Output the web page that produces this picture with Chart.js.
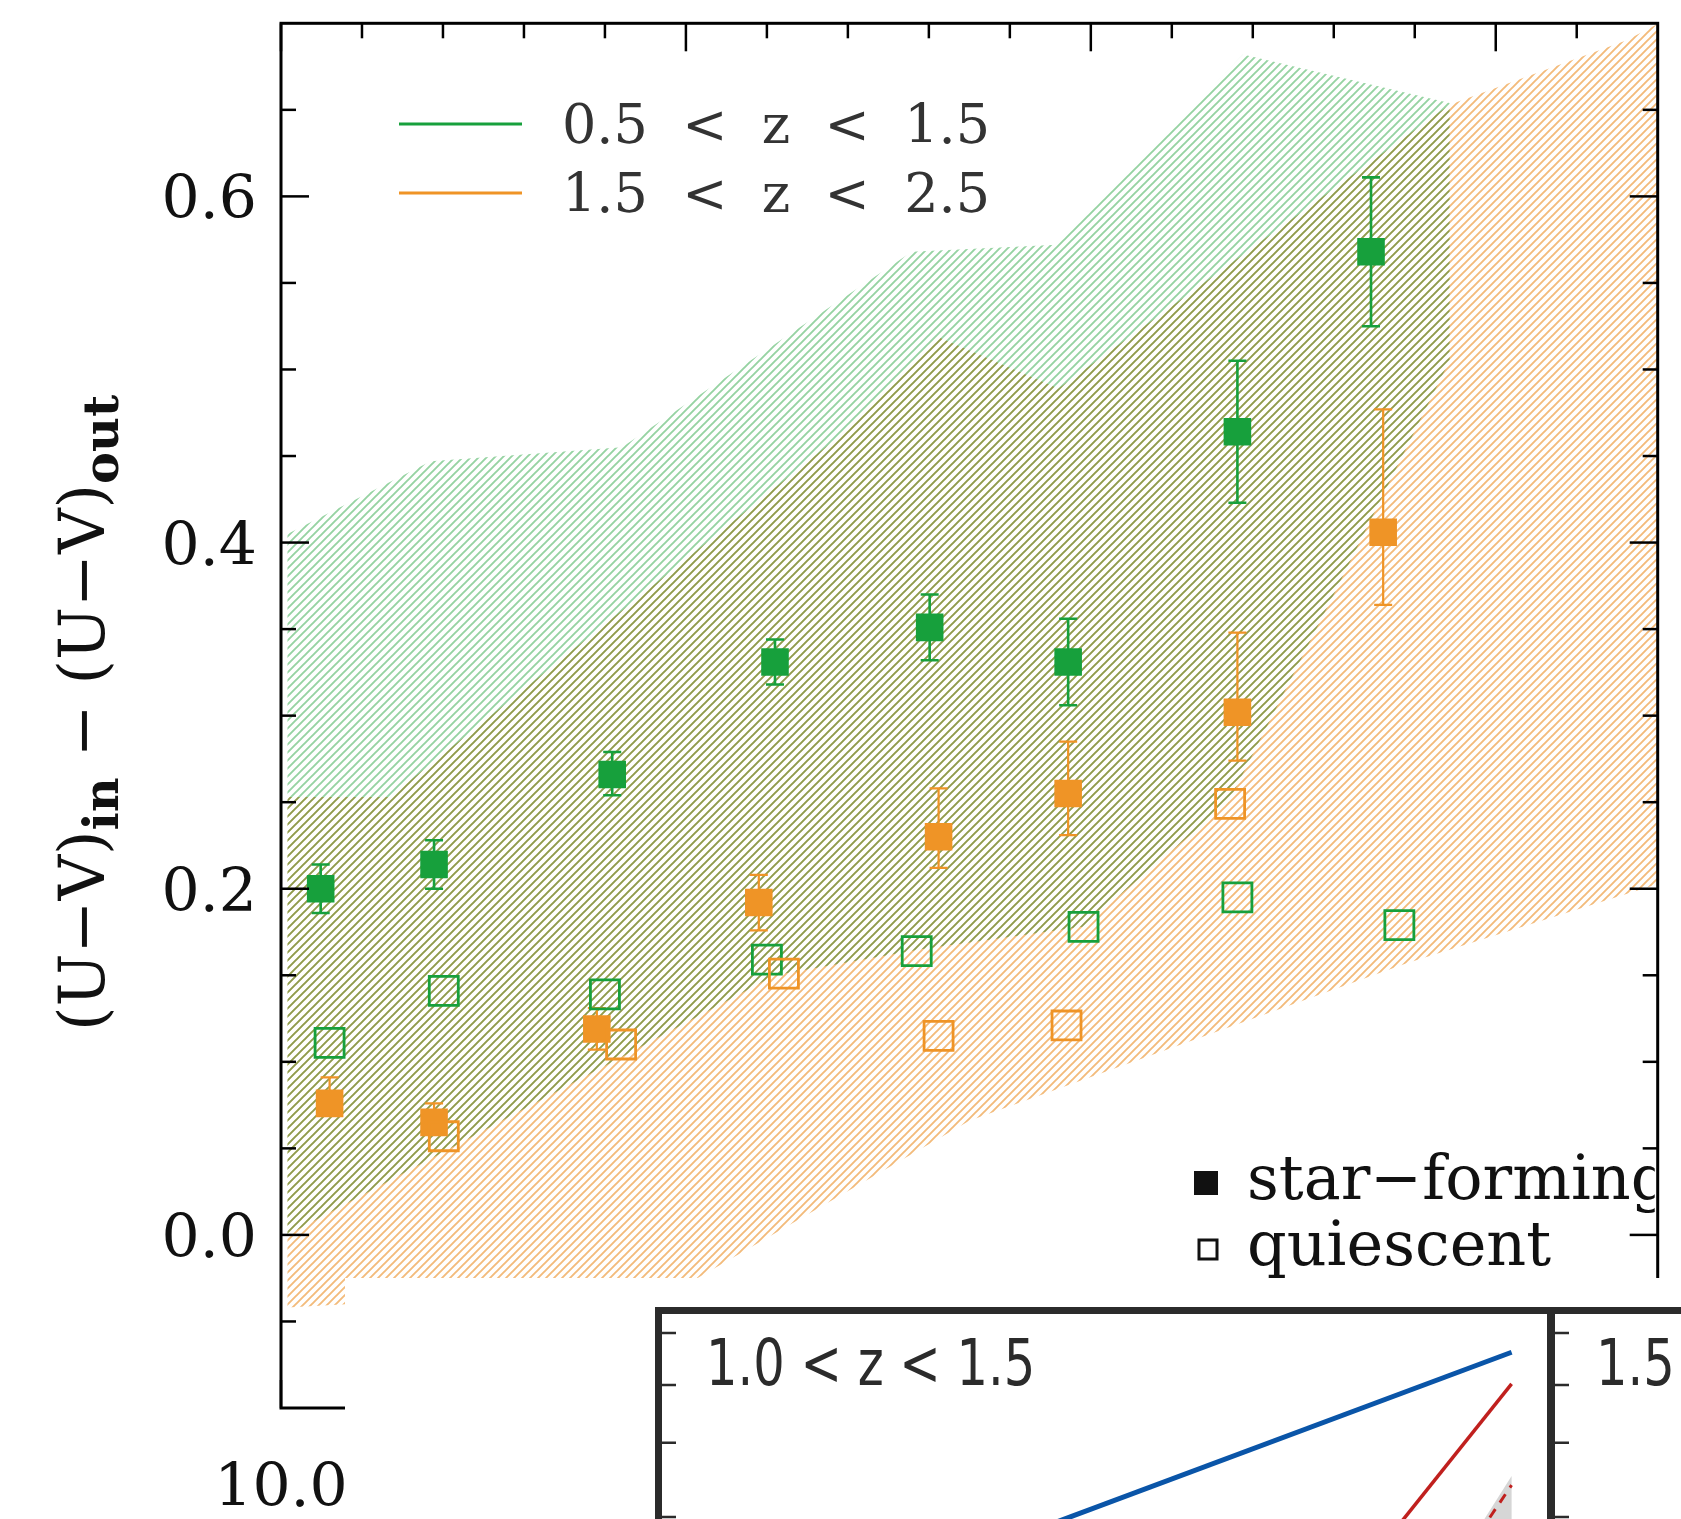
<!DOCTYPE html>
<html>
<head>
<meta charset="utf-8">
<script src="https://cdn.jsdelivr.net/npm/chart.js@4.4.0/dist/chart.umd.min.js"></script>
<style>
  html, body { margin: 0; padding: 0; background: #fff; overflow: hidden; }
  #wrap { position: relative; width: 1681px; height: 1519px; }
  #main { position: absolute; left: 0; top: 0; }
  #cover { position: absolute; left: 345px; top: 1278px; width: 1336px; height: 241px; background: #fff; overflow: hidden; }
  #inset { position: absolute; left: 0; top: 0; }
</style>
</head>
<body>
<div id="wrap">
  <canvas id="main" width="1681" height="1519"></canvas>
  <div id="cover"><canvas id="inset" width="1336" height="400"></canvas></div>
</div>
<script>
// colour gradient (U-V)in - (U-V)out vs log stellar mass

// star-forming, 0.5 < z < 1.5
const sfGreenX     = [10.049, 10.189, 10.409, 10.610, 10.801, 10.972, 11.181, 11.346];
const sfGreenY     = [0.200, 0.214, 0.266, 0.331, 0.351, 0.331, 0.464, 0.568];
const sfGreenErrHi = [0.014, 0.014, 0.013, 0.013, 0.019, 0.025, 0.041, 0.043];
const sfGreenErrLo = [0.014, 0.014, 0.012, 0.013, 0.019, 0.025, 0.041, 0.043];

// star-forming, 1.5 < z < 2.5
const sfOrangeX     = [10.060, 10.189, 10.390, 10.590, 10.812, 10.972, 11.181, 11.361];
const sfOrangeY     = [0.076, 0.065, 0.119, 0.192, 0.230, 0.255, 0.302, 0.406];
const sfOrangeErrHi = [0.015, 0.011, 0.012, 0.016, 0.028, 0.030, 0.046, 0.071];
const sfOrangeErrLo = [0.006, 0.006, 0.012, 0.016, 0.018, 0.024, 0.028, 0.042];

// quiescent
const qGreenX  = [10.060, 10.201, 10.400, 10.600, 10.785, 10.991, 11.181, 11.381];
const qGreenY  = [0.111, 0.141, 0.139, 0.159, 0.164, 0.178, 0.195, 0.179];
const qOrangeX = [10.201, 10.420, 10.621, 10.812, 10.970, 11.172];
const qOrangeY = [0.057, 0.110, 0.151, 0.115, 0.121, 0.249];

// hatched ranges
const greenUpX  = [10.008, 10.185, 10.421, 10.779, 10.958, 11.188, 11.443];
const greenUp   = [0.405, 0.447, 0.455, 0.568, 0.572, 0.682, 0.654];
const greenLoX  = [10.008, 10.610, 10.790, 10.990, 11.170, 11.300, 11.443];
const greenLo   = [0.000, 0.150, 0.165, 0.178, 0.250, 0.370, 0.505];
const orangeUpX = [10.008, 10.134, 10.680, 10.810, 10.960, 11.443, 11.661, 11.750];
const orangeUp  = [0.253, 0.253, 0.458, 0.519, 0.489, 0.653, 0.690, 0.712];
const orangeLoX = [10.008, 10.080, 10.514, 10.850, 11.390, 11.750];
const orangeLo  = [-0.042, -0.040, -0.025, 0.066, 0.157, 0.210];

// axes
const xMajorTicks = [10.0, 10.5, 11.0, 11.5];
const xTickLabels = ['10.0', '10.5', '11.0', '11.5'];
const xMinorTicks = [10.1, 10.2, 10.3, 10.4, 10.6, 10.7, 10.8, 10.9, 11.1, 11.2, 11.3, 11.4, 11.6];
const yMajorTicks = [0.0, 0.2, 0.4, 0.6];
const yTickLabels = ['0.0', '0.2', '0.4', '0.6'];
const yMinorTicks = [-0.05, 0.05, 0.1, 0.15, 0.25, 0.3, 0.35, 0.45, 0.5, 0.55, 0.65];
const legendLabels = ['0.5  <  z  <  1.5', '1.5  <  z  <  2.5'];
const typeLabels = ['star\u2212forming', 'quiescent'];

// inset panel (other figure)
const blueX = [10.0, 11.4];
const blueY = [0.387, 0.895];
const redX = [11.0, 11.4];
const redY = [0.321, 0.808];
const redDashX = [11.31, 11.40];
const redDashY = [0.40, 0.53];
const greyX = [11.28, 11.40, 11.40, 11.33];
const greyY = [0.37, 0.555, 0.30, 0.26];
const insetYTicks = [0.442, 0.646, 0.805, 0.948];
const insetLabels = ['1.0 < z < 1.5', '1.5 < z < 2.0'];

const GREEN = '#17a03c';
const ORANGE = '#ef9426';
const GREEN_HATCH = '#96d3a2';
const ORANGE_HATCH = '#f3bb7b';
const SERIF = '"DejaVu Serif", serif';

function pts(xs, ys) { return xs.map((x, i) => ({x: x, y: ys[i]})); }

function band(upX, up, loX, lo) {
    const p = pts(upX, up);
    for (let i = loX.length - 1; i >= 0; i--) p.push({x: loX[i], y: lo[i]});
    return p;
}

function hatch(color) {
    const n = 8;
    const c = document.createElement('canvas');
    c.width = n; c.height = n;
    const g = c.getContext('2d');
    g.strokeStyle = color;
    g.lineWidth = 1.9;
    g.beginPath();
    g.moveTo(-1, n + 1); g.lineTo(n + 1, -1);
    g.moveTo(-1, 1); g.lineTo(1, -1);
    g.moveTo(n - 1, n + 1); g.lineTo(n + 1, n - 1);
    g.stroke();
    return g.createPattern(c, 'repeat');
}

const mainFrame = {
    id: 'mainFrame',
    beforeDatasetsDraw(chart) { chart.ctx.globalCompositeOperation = 'multiply'; },
    beforeDatasetDraw(chart, args) {
        const ds = chart.data.datasets[args.index];
        const ctx = chart.ctx;
        if (ds.band) { ctx.globalCompositeOperation = 'multiply'; return; }
        ctx.globalCompositeOperation = 'source-over';
        if (!ds.errHi) return;
        const ys = chart.scales.y;
        ctx.save();
        ctx.strokeStyle = ds.borderColor;
        ctx.lineWidth = ds.errWidth;
        args.meta.data.forEach((pt, i) => {
            const yHi = ys.getPixelForValue(ds.data[i].y + ds.errHi[i]);
            const yLo = ys.getPixelForValue(ds.data[i].y - ds.errLo[i]);
            ctx.beginPath();
            ctx.moveTo(pt.x, yHi); ctx.lineTo(pt.x, yLo);
            ctx.moveTo(pt.x - 9, yHi); ctx.lineTo(pt.x + 9, yHi);
            ctx.moveTo(pt.x - 9, yLo); ctx.lineTo(pt.x + 9, yLo);
            ctx.stroke();
        });
        ctx.restore();
    },
    afterDraw(chart) {
        const ctx = chart.ctx;
        const {left, right, top, bottom} = chart.chartArea;
        const xs = chart.scales.x, ys = chart.scales.y;
        ctx.save();
        ctx.globalCompositeOperation = 'source-over';
        ctx.strokeStyle = '#000';
        ctx.lineWidth = 3;
        ctx.strokeRect(left, top, right - left, bottom - top);
        ctx.lineWidth = 2.5;
        const seg = (x1, y1, x2, y2) => { ctx.beginPath(); ctx.moveTo(x1, y1); ctx.lineTo(x2, y2); ctx.stroke(); };
        const yt = (arr, len) => arr.forEach(v => { const p = ys.getPixelForValue(v); seg(left, p, left + len, p); seg(right, p, right - len, p); });
        const xt = (arr, len) => arr.forEach(v => { const p = xs.getPixelForValue(v); seg(p, top, p, top + len); seg(p, bottom, p, bottom - len); });
        yt(yMajorTicks, 28); yt(yMinorTicks, 15);
        xt(xMajorTicks, 28); xt(xMinorTicks, 15);

        // tick labels
        ctx.fillStyle = '#111';
        ctx.font = '60px ' + SERIF;
        ctx.textAlign = 'right';
        ctx.textBaseline = 'alphabetic';
        yMajorTicks.forEach((v, i) => ctx.fillText(yTickLabels[i], 257, ys.getPixelForValue(v) + 22));
        ctx.textAlign = 'center';
        xMajorTicks.forEach((v, i) => ctx.fillText(xTickLabels[i], xs.getPixelForValue(v), 1506));

        // y axis title with subscripts
        const parts = [
            ['(U\u2212V)', '63px ' + SERIF, 0],
            ['in', 'bold 48px ' + SERIF, 14],
            [' \u2212 ', '63px ' + SERIF, 0],
            ['(U\u2212V)', '63px ' + SERIF, 0],
            ['out', 'bold 48px ' + SERIF, 14]
        ];
        let total = 0;
        parts.forEach(p => { ctx.font = p[1]; p.push(ctx.measureText(p[0]).width); total += p[3]; });
        ctx.save();
        ctx.translate(104, 713);
        ctx.rotate(-Math.PI / 2);
        ctx.textAlign = 'left';
        let cx = -total / 2;
        parts.forEach(p => { ctx.font = p[1]; ctx.fillText(p[0], cx, p[2]); cx += p[3]; });
        ctx.restore();

        // redshift legend
        ctx.lineWidth = 3;
        ctx.font = '54px ' + SERIF;
        ctx.fillStyle = '#333';
        ctx.textAlign = 'left';
        [[GREEN, 124, 143], [ORANGE, 193, 212]].forEach((r, i) => {
            ctx.strokeStyle = r[0];
            seg(399, r[1], 522, r[1]);
            ctx.fillText(legendLabels[i], 562, r[2]);
        });

        // type legend
        ctx.save();
        ctx.beginPath();
        ctx.rect(left, top, right - left - 3, bottom - top);
        ctx.clip();
        ctx.fillStyle = '#111';
        ctx.fillRect(1194, 1171, 24, 24);
        ctx.strokeStyle = '#111';
        ctx.lineWidth = 3;
        ctx.strokeRect(1199, 1240, 18, 19);
        ctx.font = '62px ' + SERIF;
        ctx.fillText(typeLabels[0], 1247, 1199);
        ctx.fillText(typeLabels[1], 1247, 1265);
        ctx.restore();
        ctx.restore();
    }
};

new Chart(document.getElementById('main'), {
    type: 'scatter',
    data: {
        datasets: [
            { label: 'range 1.5<z<2.5', data: band(orangeUpX, orangeUp, orangeLoX, orangeLo), band: true,
              showLine: true, fill: 'shape', backgroundColor: hatch(ORANGE_HATCH), borderColor: 'rgba(0,0,0,0)',
              borderWidth: 0, pointRadius: 0, order: 20 },
            { label: 'range 0.5<z<1.5', data: band(greenUpX, greenUp, greenLoX, greenLo), band: true,
              showLine: true, fill: 'shape', backgroundColor: hatch(GREEN_HATCH), borderColor: 'rgba(0,0,0,0)',
              borderWidth: 0, pointRadius: 0, order: 19 },
            { label: 'star-forming 0.5<z<1.5', data: pts(sfGreenX, sfGreenY), errHi: sfGreenErrHi, errLo: sfGreenErrLo,
              errWidth: 2.6, pointStyle: 'rect', pointRadius: 19.5, backgroundColor: GREEN, borderColor: GREEN,
              borderWidth: 0, order: 4 },
            { label: 'star-forming 1.5<z<2.5', data: pts(sfOrangeX, sfOrangeY), errHi: sfOrangeErrHi, errLo: sfOrangeErrLo,
              errWidth: 2.2, pointStyle: 'rect', pointRadius: 19.5, backgroundColor: ORANGE, borderColor: ORANGE,
              borderWidth: 0, order: 3 },
            { label: 'quiescent 0.5<z<1.5', data: pts(qGreenX, qGreenY), pointStyle: 'rect', pointRadius: 20.5,
              backgroundColor: 'rgba(0,0,0,0)', borderColor: GREEN, borderWidth: 2.8, order: 2 },
            { label: 'quiescent 1.5<z<2.5', data: pts(qOrangeX, qOrangeY), pointStyle: 'rect', pointRadius: 20.5,
              backgroundColor: 'rgba(0,0,0,0)', borderColor: ORANGE, borderWidth: 2.8, order: 1 }
        ]
    },
    options: {
        responsive: false,
        animation: false,
        devicePixelRatio: 1,
        events: [],
        layout: { padding: { left: 281, top: 15, right: 2, bottom: 111 } },
        scales: {
            x: { type: 'linear', min: 10.0, max: 11.7, display: false },
            y: { type: 'linear', min: -0.1, max: 0.7, display: false }
        },
        plugins: { legend: { display: false }, tooltip: { enabled: false } }
    },
    plugins: [mainFrame]
});

const insetFrame = {
    id: 'insetFrame',
    afterDraw(chart) {
        const ctx = chart.ctx;
        const ys = chart.scales.y;
        const {left, right, top} = chart.chartArea;
        ctx.save();
        ctx.fillStyle = '#2b2b2b';
        ctx.fillRect(left - 7, top - 7, chart.width - left + 7, 7);
        ctx.fillRect(left - 7, top - 7, 7, chart.height);
        ctx.fillRect(right, top - 7, 8, chart.height);
        ctx.strokeStyle = '#2b2b2b';
        ctx.lineWidth = 2.5;
        insetYTicks.forEach(v => {
            const p = ys.getPixelForValue(v);
            ctx.beginPath();
            ctx.moveTo(left, p); ctx.lineTo(left + 14, p);
            ctx.moveTo(right + 8, p); ctx.lineTo(right + 22, p);
            ctx.stroke();
        });
        ctx.font = '64px "Liberation Sans Narrow", "DejaVu Sans Condensed", sans-serif';
        ctx.textAlign = 'left';
        [[left + 44, insetLabels[0]], [right + 49, insetLabels[1]]].forEach(t => {
            ctx.save();
            ctx.translate(t[0], 107);
            ctx.scale(0.86, 1);
            ctx.fillText(t[1], 0, 0);
            ctx.restore();
        });
        ctx.restore();
    }
};

new Chart(document.getElementById('inset'), {
    type: 'scatter',
    data: {
        datasets: [
            { data: pts(blueX, blueY), showLine: true, borderColor: '#0a55a8', borderWidth: 5, pointRadius: 0, order: 1 },
            { data: pts(redX, redY), showLine: true, borderColor: '#c0201e', borderWidth: 3.5, pointRadius: 0, order: 2 },
            { data: pts(redDashX, redDashY), showLine: true, borderColor: '#c0201e', borderWidth: 3, borderDash: [10, 8],
              pointRadius: 0, order: 3 },
            { data: pts(greyX, greyY), showLine: true, fill: 'shape', backgroundColor: '#d6d6d6',
              borderColor: 'rgba(0,0,0,0)', borderWidth: 0, pointRadius: 0, order: 4 }
        ]
    },
    options: {
        responsive: false,
        animation: false,
        devicePixelRatio: 1,
        events: [],
        layout: { padding: { left: 317, top: 36, right: 134, bottom: 0 } },
        scales: {
            x: { type: 'linear', min: 9.0, max: 11.5, display: false },
            y: { type: 'linear', min: 0, max: 1, display: false }
        },
        plugins: { legend: { display: false }, tooltip: { enabled: false } }
    },
    plugins: [insetFrame]
});
</script>
</body>
</html>
